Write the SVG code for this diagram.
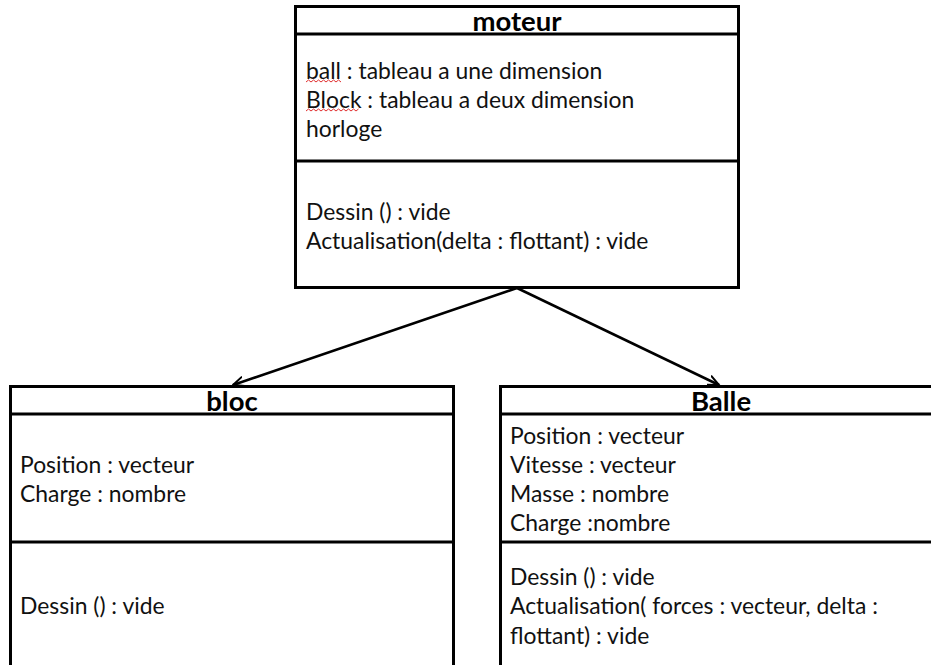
<svg xmlns="http://www.w3.org/2000/svg" width="931" height="665" viewBox="0 0 931 665">
<style>
.box{fill:#fff;stroke:#000;stroke-width:3}
.sep{stroke:#000;stroke-width:3}
.t{font-family:Lato,"Open Sans","Liberation Sans",sans-serif;font-size:22.9px;fill:#111}
.h{font-family:Lato,"Open Sans","Liberation Sans",sans-serif;font-size:27.5px;font-weight:bold;fill:#000;text-anchor:middle}
.c{stroke:#000;stroke-width:2.5;fill:none}
.w{stroke:#e03030;stroke-width:1;fill:none}
</style>
<defs>
<marker id="arr" viewBox="0 0 10 10" refX="9" refY="5" markerWidth="5" markerHeight="5" orient="auto" markerUnits="strokeWidth">
<path d="M0,1 L9,5 L0,9" fill="none" stroke="#000" stroke-width="1.6"/>
</marker>
</defs>
<rect width="931" height="665" fill="#fff"/>
<g id="connectors">
<line class="c" x1="517" y1="288" x2="233" y2="385" marker-end="url(#arr)"/>
<line class="c" x1="517" y1="288" x2="719" y2="385" marker-end="url(#arr)"/>
</g>
<g id="moteur">
<rect class="box" x="295.5" y="6.5" width="443" height="281"/>
<line class="sep" x1="295.5" y1="34" x2="738.5" y2="34"/>
<line class="sep" x1="295.5" y1="161" x2="738.5" y2="161"/>
<text class="h" x="517" y="31">moteur</text>
<text class="t" x="306" y="79">ball : tableau a une dimension</text>
<text class="t" x="306" y="108">Block : tableau a deux dimension</text>
<text class="t" x="306" y="137">horloge</text>
<path class="w" d="M306,82 l2.5,-2 l2.5,2 l2.5,-2 l2.5,2 l2.5,-2 l2.5,2 l2.5,-2 l2.5,2 l2.5,-2 l2.5,2 l2.5,-2 l2.5,2 l2.5,-2 l2.5,2"/>
<path class="w" d="M306,111 l2.5,-2 l2.5,2 l2.5,-2 l2.5,2 l2.5,-2 l2.5,2 l2.5,-2 l2.5,2 l2.5,-2 l2.5,2 l2.5,-2 l2.5,2 l2.5,-2 l2.5,2 l2.5,-2 l2.5,2 l2.5,-2 l2.5,2 l2.5,-2 l2.5,2 l2.5,-2"/>
<text class="t" x="306" y="220">Dessin () : vide</text>
<text class="t" x="306" y="249">Actualisation(delta : flottant) : vide</text>
</g>
<g id="bloc">
<rect class="box" x="10.5" y="386.5" width="443" height="290"/>
<line class="sep" x1="10.5" y1="414" x2="453.5" y2="414"/>
<line class="sep" x1="10.5" y1="542" x2="453.5" y2="542"/>
<text class="h" x="232" y="411">bloc</text>
<text class="t" x="20" y="473">Position : vecteur</text>
<text class="t" x="20" y="502">Charge : nombre</text>
<text class="t" x="20" y="614">Dessin () : vide</text>
</g>
<g id="balle">
<rect class="box" x="500.5" y="386.5" width="450" height="290"/>
<line class="sep" x1="500.5" y1="414" x2="931" y2="414"/>
<line class="sep" x1="500.5" y1="542" x2="931" y2="542"/>
<text class="h" x="721" y="411">Balle</text>
<text class="t" x="510" y="444">Position : vecteur</text>
<text class="t" x="510" y="473">Vitesse : vecteur</text>
<text class="t" x="510" y="502">Masse : nombre</text>
<text class="t" x="510" y="531">Charge :nombre</text>
<text class="t" x="510" y="585">Dessin () : vide</text>
<text class="t" x="510" y="614">Actualisation( forces : vecteur, delta :</text>
<text class="t" x="510" y="644">flottant) : vide</text>
</g>
</svg>
